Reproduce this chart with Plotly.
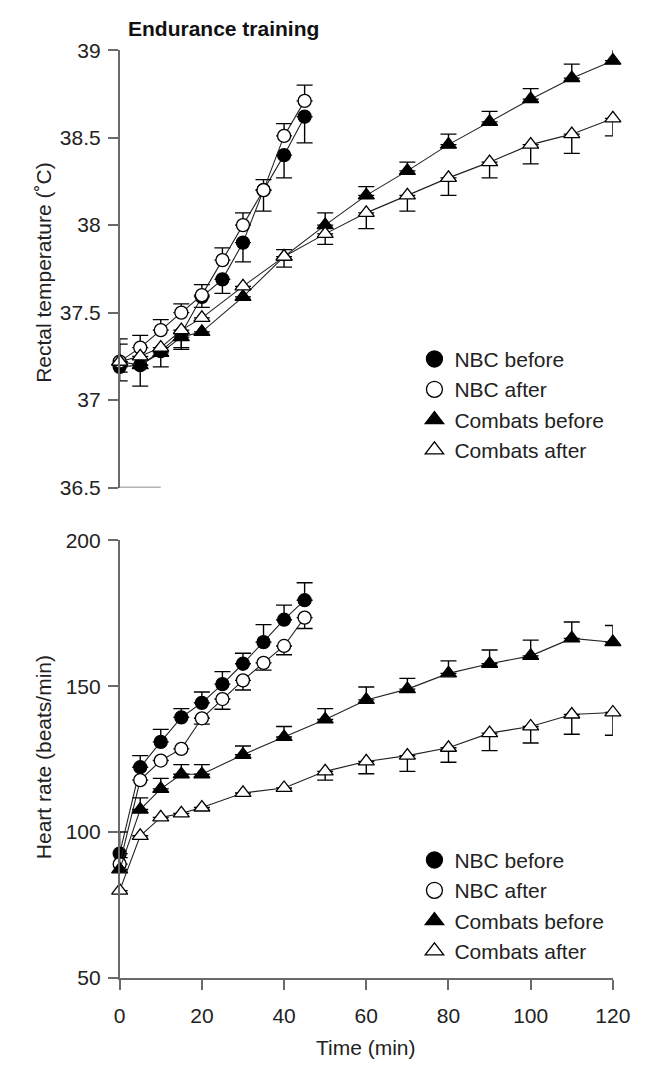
import plotly.graph_objects as go

# ---------------- data ----------------
t_nbc = [0, 5, 10, 15, 20, 25, 30, 35, 40, 45]
t_cmb = [0, 5, 10, 15, 20, 30, 40, 50, 60, 70, 80, 90, 100, 110, 120]

# Rectal temperature (°C)
temp_nbc_before = [37.19, 37.20, 37.28, 37.38, 37.59, 37.69, 37.90, 38.20, 38.40, 38.62]
temp_nbc_before_up = [0, 0, 0, 0, 0, 0, 0, 0, 0, 0]
temp_nbc_before_dn = [0.08, 0.12, 0.09, 0.09, 0.06, 0.08, 0.11, 0.12, 0.13, 0.15]
temp_nbc_after = [37.22, 37.30, 37.40, 37.50, 37.60, 37.80, 38.00, 38.20, 38.51, 38.71]
temp_nbc_after_up = [0.13, 0.07, 0.06, 0.05, 0.06, 0.07, 0.07, 0.06, 0.07, 0.09]
temp_nbc_after_dn = [0, 0, 0, 0, 0, 0, 0, 0, 0, 0]
temp_cmb_before = [37.22, 37.20, 37.27, 37.36, 37.39, 37.59, 37.82, 38.00, 38.17, 38.31, 38.46, 38.59, 38.72, 38.84, 38.94]
temp_cmb_before_up = [0, 0, 0, 0, 0, 0, 0.04, 0.07, 0.05, 0.05, 0.06, 0.06, 0.06, 0.08, 0.08]
temp_cmb_before_dn = [0.06, 0, 0, 0.06, 0, 0, 0.06, 0, 0, 0, 0, 0, 0, 0, 0]
temp_cmb_after = [37.22, 37.25, 37.30, 37.40, 37.47, 37.65, 37.82, 37.95, 38.07, 38.17, 38.27, 38.36, 38.46, 38.52, 38.61]
temp_cmb_after_up = [0.1, 0, 0, 0, 0, 0, 0, 0, 0, 0, 0, 0, 0, 0, 0]
temp_cmb_after_dn = [0, 0, 0, 0, 0, 0, 0, 0.06, 0.09, 0.09, 0.10, 0.09, 0.11, 0.11, 0.10]

# Heart rate (beats/min)
hr_nbc_before = [92.6, 122.2, 130.9, 139.3, 144.3, 150.7, 157.7, 165.1, 172.8, 179.5]
hr_nbc_before_up = [7.4, 4.0, 4.3, 3.0, 3.7, 4.3, 3.6, 6.0, 5.0, 6.0]
hr_nbc_before_dn = [0, 0, 0, 0, 0, 0, 0, 0, 0, 0]
hr_nbc_after = [89.0, 117.8, 124.5, 128.5, 139.0, 145.6, 152.0, 158.0, 163.8, 173.5]
hr_nbc_after_up = [0, 0, 0, 0, 0, 0, 0, 0, 0, 0]
hr_nbc_after_dn = [0, 0, 0, 0, 2.0, 3.5, 3.3, 2.5, 3.0, 3.7]
hr_cmb_before = [87.2, 107.7, 114.8, 119.8, 119.8, 126.5, 132.6, 138.6, 145.3, 149.0, 154.4, 157.7, 160.4, 166.4, 165.1]
hr_cmb_before_up = [4.0, 4.0, 3.6, 3.3, 3.3, 3.0, 3.6, 3.7, 4.4, 3.7, 4.3, 4.7, 5.4, 5.6, 5.7]
hr_cmb_before_dn = [0] * 15
hr_cmb_after = [79.9, 98.7, 105.0, 106.4, 108.4, 113.4, 115.1, 120.8, 124.2, 126.2, 128.9, 133.9, 136.2, 140.3, 141.0]
hr_cmb_after_up = [0] * 15
hr_cmb_after_dn = [0, 0, 0, 0, 0, 0, 0, 3.0, 4.2, 5.4, 5.0, 6.0, 5.7, 6.8, 7.8]

series_names = ["NBC before", "NBC after", "Combats before", "Combats after"]
x_ticks = [0, 20, 40, 60, 80, 100, 120]
temp_ticks = [36.5, 37, 37.5, 38, 38.5, 39]
temp_tick_text = ["36.5", "37", "37.5", "38", "38.5", "39"]
hr_ticks = [50, 100, 150, 200]

# ---------------- styling ----------------
W, H = 654, 1071
FONT = "Liberation Sans, Arial, Helvetica, sans-serif"
FS = 21
AX = "#6a6a6a"
TXT = "#222222"
styles = {
    "NBC before": dict(symbol="circle", color="black", size=13),
    "NBC after": dict(symbol="circle", color="white", size=13),
    "Combats before": dict(symbol="triangle-up", color="black", size=14),
    "Combats after": dict(symbol="triangle-up", color="white", size=14),
}

def px_x(p):
    return p / W

def px_y(p):
    return 1 - p / H

fig = go.Figure()

def add_series(x, y, up, dn, name, xa, ya, legend):
    st = styles[name]
    fig.add_trace(go.Scatter(
        x=x, y=y, mode="lines+markers", name=name, showlegend=False,
        xaxis=xa, yaxis=ya, cliponaxis=False,
        line=dict(color="#222222", width=1.1),
        marker=dict(symbol=st["symbol"], size=st["size"], color=st["color"],
                    line=dict(color="black", width=1.3)),
        error_y=dict(type="data", symmetric=False, array=up, arrayminus=dn,
                     color="black", thickness=1.4, width=8),
    ))
    fig.add_trace(go.Scatter(
        x=[None], y=[None], mode="markers", name=name, showlegend=True,
        legend=legend, xaxis=xa, yaxis=ya,
        marker=dict(symbol=st["symbol"], size=st["size"] + 3, color=st["color"],
                    line=dict(color="black", width=1.3)),
    ))

top = [
    (t_nbc, temp_nbc_before, temp_nbc_before_up, temp_nbc_before_dn, "NBC before"),
    (t_nbc, temp_nbc_after, temp_nbc_after_up, temp_nbc_after_dn, "NBC after"),
    (t_cmb, temp_cmb_before, temp_cmb_before_up, temp_cmb_before_dn, "Combats before"),
    (t_cmb, temp_cmb_after, temp_cmb_after_up, temp_cmb_after_dn, "Combats after"),
]
bottom = [
    (t_nbc, hr_nbc_before, hr_nbc_before_up, hr_nbc_before_dn, "NBC before"),
    (t_nbc, hr_nbc_after, hr_nbc_after_up, hr_nbc_after_dn, "NBC after"),
    (t_cmb, hr_cmb_before, hr_cmb_before_up, hr_cmb_before_dn, "Combats before"),
    (t_cmb, hr_cmb_after, hr_cmb_after_up, hr_cmb_after_dn, "Combats after"),
]
for x, y, up, dn, name in top:
    add_series(x, y, up, dn, name, "x", "y", "legend")
for x, y, up, dn, name in bottom:
    add_series(x, y, up, dn, name, "x2", "y2", "legend2")

xdom = [px_x(118), px_x(630)]
tickfont = dict(family=FONT, size=FS, color=TXT)
axis_common = dict(showline=True, linecolor=AX, linewidth=1.5, ticks="outside",
                   ticklen=10, tickcolor=AX, tickwidth=1.5, showgrid=False,
                   zeroline=False, tickfont=tickfont)
legend_common = dict(xanchor="left", yanchor="top",
                     font=dict(family=FONT, size=FS, color=TXT),
                     bgcolor="rgba(0,0,0,0)", tracegroupgap=0, itemsizing="trace")

fig.update_layout(
    width=W, height=H, margin=dict(l=0, r=0, t=0, b=0),
    paper_bgcolor="white", plot_bgcolor="white",
    font=dict(family=FONT, color=TXT),
    xaxis=dict(domain=xdom, range=[0, 120], visible=False, anchor="y"),
    yaxis=dict(domain=[px_y(486), px_y(39)], range=[36.5, 39], anchor="x",
               tickvals=temp_ticks, ticktext=temp_tick_text,
               ticklabelstandoff=3, **axis_common),
    xaxis2=dict(domain=xdom, range=[0, 120], anchor="y2", tickvals=x_ticks,
                ticklabelstandoff=8, **axis_common),
    yaxis2=dict(domain=[px_y(987), px_y(540)], range=[50, 200], anchor="x2",
                tickvals=hr_ticks, ticklabelstandoff=3, **axis_common),
    legend=dict(x=px_x(424), y=px_y(334), **legend_common),
    legend2=dict(x=px_x(424), y=px_y(846), **legend_common),
    annotations=[
        dict(text="<b>Endurance training</b>", x=px_x(125), y=px_y(17),
             xref="paper", yref="paper", xanchor="left", yanchor="middle",
             showarrow=False, font=dict(family=FONT, size=FS, color="#111111")),
        dict(text="Rectal temperature (˚C)", x=px_x(39), y=px_y(266),
             xref="paper", yref="paper", textangle=-90, showarrow=False,
             xanchor="center", yanchor="middle",
             font=dict(family=FONT, size=FS, color=TXT)),
        dict(text="Heart rate (beats/min)", x=px_x(39), y=px_y(762),
             xref="paper", yref="paper", textangle=-90, showarrow=False,
             xanchor="center", yanchor="middle",
             font=dict(family=FONT, size=FS, color=TXT)),
        dict(text="Time (min)", x=px_x(374), y=px_y(1058),
             xref="paper", yref="paper", showarrow=False,
             xanchor="center", yanchor="middle",
             font=dict(family=FONT, size=FS, color=TXT)),
    ],
    shapes=[
        dict(type="line", xref="x", yref="y", x0=0, x1=10, y0=36.5, y1=36.5,
             line=dict(color=AX, width=1.5)),
    ],
)

fig.write_html("out.html")
